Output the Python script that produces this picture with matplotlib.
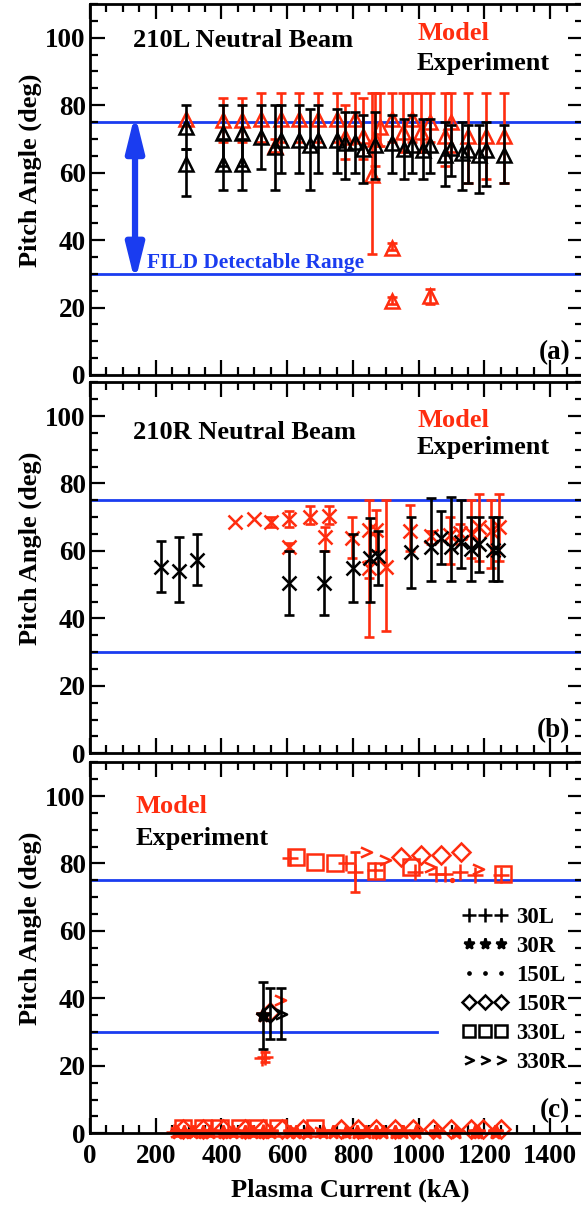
import numpy as np
import matplotlib
matplotlib.use('Agg')
import matplotlib.pyplot as plt
from matplotlib.path import Path
from matplotlib.lines import Line2D
from matplotlib.ticker import MultipleLocator

plt.rcParams['font.family'] = ['Liberation Serif', 'DejaVu Serif']
plt.rcParams['font.weight'] = 'bold'

RED = '#ff2d0f'
BLUE = '#1a3cf0'

# ---- panel (a): 210L neutral beam ----
a_exp_x = [291, 291, 405, 405, 461, 461, 519, 562, 580, 636, 669, 694, 750, 775, 807,
           831, 866, 920, 954, 980, 1013, 1035, 1079, 1099, 1133, 1150, 1185, 1206, 1261]
a_exp_y = [73.5, 62.6, 71.7, 62.6, 71.7, 62.6, 70.7, 67.7, 69.7, 69.7, 68.2, 69.7, 69.7, 68.7, 69.2,
           67.0, 68.2, 68.7, 67.0, 68.2, 66.8, 68.2, 65.3, 67.2, 65.8, 66.8, 65.3, 66.8, 65.3]
a_exp_hi = [80, 67, 80, 70, 80, 70, 80, 80, 80, 80, 79, 80, 79, 78, 78,
            77, 78, 77, 76, 77, 76, 76, 75, 74, 75, 74, 74, 75, 74]
a_exp_lo = [67, 53, 62, 55, 62, 55, 61, 55, 60, 60, 55, 60, 60, 58, 60,
            57, 58, 60, 58, 60, 58, 60, 56, 59, 55, 57, 54, 56, 57]

a_mod_x = [291, 405, 461, 519, 562, 580, 636, 694, 750, 775, 807, 831, 866, 859, 881,
           920, 920, 920, 952, 980, 1008, 1035, 1035, 1079, 1099, 1150, 1206, 1261]
a_mod_y = [76, 75.5, 75.5, 76, 68, 76, 76, 76, 76, 70.7, 76, 71, 70, 59.4, 73.5,
           76, 37.7, 21.8, 72, 76, 72, 75, 23.3, 71, 75, 71, 71, 71]
a_mod_hi = [76, 82, 82, 83.5, 70, 83.5, 83.5, 83.5, 83.5, 80, 83.5, 82, 83.5, 83.5, 83.5,
            83.5, 39, 23, 83.5, 83.5, 83.5, 83.5, 25.5, 83.5, 83.5, 83.5, 83.5, 83.5]
a_mod_lo = [76, 69, 69, 69, 66, 69, 69, 69, 69, 64, 69, 64, 62, 36, 68,
            69, 37, 21, 66, 69, 66, 69, 21, 62, 66, 57, 58, 57]

# ---- panel (b): 210R neutral beam ----
b_exp_x = [215, 272, 326, 605, 712, 800, 851, 876, 978, 1038, 1069, 1099, 1130, 1160, 1185, 1226, 1241]
b_exp_y = [55.3, 54.1, 57.3, 50.4, 50.4, 54.8, 57.8, 58.4, 59.7, 61.2, 63.7, 61.2, 62.7, 60.7, 62.2, 60.2, 60.2]
b_exp_hi = [63, 64, 65, 60, 60, 65, 69.9, 66, 70, 75.8, 71.8, 76, 75, 70, 70, 70, 70]
b_exp_lo = [47.7, 45, 49.9, 41, 41, 45, 45, 50, 49, 51, 56, 51, 54.8, 51, 53.8, 51, 51]

b_mod_x = [441, 498, 552, 605, 605, 669, 727, 714, 798, 849, 849, 869, 900, 975,
           1038, 1094, 1125, 1160, 1185, 1221, 1244]
b_mod_y = [68.6, 69.4, 68.6, 69.4, 61.2, 70.2, 70.4, 64, 63.8, 66.3, 54.8, 66.3, 55.3, 65.8,
           64.3, 64.7, 65.2, 65.2, 67.2, 65.8, 67.2]
b_mod_hi = [68.6, 69.4, 70, 71.8, 62.5, 73.3, 73.3, 67, 70, 75, 57, 72, 75, 73.5,
            66, 70, 68, 75, 77, 75, 77]
b_mod_lo = [68.6, 69.4, 67, 67, 60, 68, 68, 60, 58, 34.6, 52, 60, 36.3, 60,
            62, 56, 62, 58, 57, 55, 57]

# ---- panel (c): other beams (model in red, experiment in black) ----
c_30L_x = [608, 780, 805, 866, 988, 1054, 1079, 1125, 1170, 1251, 522, 532, 255, 525]
c_30L_y = [81.7, 80, 77.5, 78, 77.5, 77, 77, 77.5, 76.5, 76.7, 22.2, 22.5, 0.3, 0.3]
c_30L_hi = [81.7, 80, 83.4, 78, 77.5, 77, 77, 77.5, 76.5, 76.7, 22.2, 24.0, 0.3, 0.3]
c_30L_lo = [81.7, 80, 71.6, 78, 77.5, 77, 77, 77.5, 76.5, 76.7, 22.2, 21.0, 0.3, 0.3]

c_30R_x = [265, 287, 314, 345, 365, 405, 436, 471, 497, 527, 552, 608, 628, 659, 709,
           740, 780, 811, 841, 871, 892, 927, 952, 993, 1054, 1115, 1170, 1180, 1231, 1236, 527]
c_30R_y = [0.3] * 30 + [35]

c_150L_x = [1100, 300, 640, 960]
c_150L_y = [75, 0.3, 0.3, 0.3]

c_150R_x = [947, 1008, 1069, 1130, 547, 284, 344, 405, 471, 527, 583, 648, 765, 816,
            871, 927, 983, 1044, 1099, 1160, 1196, 1251]
c_150R_y = [82, 82.4, 82.6, 83.5, 35.9] + [1.3] * 17

c_330L_x = [628, 684, 745, 870, 978, 1256, 284, 344, 395, 456, 512, 572, 684]
c_330L_y = [81.9, 80.5, 80.2, 77.7, 79, 77, 1.7, 1.7, 1.7, 1.7, 1.7, 1.7, 1.7]

c_330R_x = [841, 897, 1033, 1180, 577, 263, 628, 700, 790, 850]
c_330R_y = [83.5, 81, 79, 78.5, 39.5, 0.3, 0.3, 0.3, 0.3, 0.3]

c_exp_x = [525, 547, 582]
c_exp_y = [35, 35.8, 35.5]
c_exp_hi = [45, 43, 43]
c_exp_lo = [25, 28, 28]
c_exp_beam = ['30R', '150R', '330R']

legend_labels = ['30L', '30R', '150L', '150R', '330L', '330R']

# chevron marker used for 330R
chev = Path([(-0.5, 0.45), (0.5, 0.0), (-0.5, -0.45)], [Path.MOVETO, Path.LINETO, Path.LINETO])
mk = {'30L': ('+', 12), '30R': ('*', 10), '150L': ('.', 4), '150R': ('D', 9),
      '330L': ('s', 11), '330R': (chev, 8)}

W, H = 581, 1206
fig = plt.figure(figsize=(W / 100, H / 100), dpi=100)

def make_ax(bottom_px):
    ax = fig.add_axes([90 / W, (H - bottom_px) / H, 493 / W, 371 / H])
    ax.set_xlim(0, 1500)
    ax.set_ylim(0, 110)
    ax.xaxis.set_major_locator(MultipleLocator(200))
    ax.xaxis.set_minor_locator(MultipleLocator(50))
    ax.yaxis.set_minor_locator(MultipleLocator(5))
    ax.set_yticks([0, 20, 40, 60, 80, 100])
    ax.set_xticks([0, 200, 400, 600, 800, 1000, 1200, 1400])
    ax.tick_params(which='both', direction='in', top=True, right=True, width=1.6, labelsize=19.5)
    ax.tick_params(which='major', length=11)
    ax.tick_params(which='minor', length=6)
    ax.tick_params(axis='y', pad=3)
    ax.tick_params(axis='x', pad=8)
    for s in ax.spines.values():
        s.set_linewidth(2)
    ax.set_ylabel('Pitch Angle (deg)', fontsize=19, fontweight='bold')
    ax.yaxis.set_label_coords(-0.097, 0.553)
    return ax

def errpts(ax, x, y, lo, hi, color, marker, ms, z):
    x = np.array(x, float); y = np.array(y, float)
    lo = np.array(lo, float); hi = np.array(hi, float)
    m = hi > lo
    ax.errorbar(x[m], y[m], yerr=[y[m] - lo[m], hi[m] - y[m]], fmt='none', ecolor=color,
                elinewidth=1.9, capsize=3.5, capthick=1.9, zorder=z)
    ax.plot(x, y, ls='none', marker=marker, ms=ms, mfc='none', mec=color, mew=1.8, zorder=z + 0.1)

# (a)
ax1 = make_ax(375)
ax1.axhline(75, color=BLUE, lw=2, zorder=1)
ax1.axhline(30, color=BLUE, lw=2, zorder=1)
errpts(ax1, a_mod_x, a_mod_y, a_mod_lo, a_mod_hi, RED, '^', 10, 2)
errpts(ax1, a_exp_x, a_exp_y, a_exp_lo, a_exp_hi, 'black', '^', 9.5, 3)
ax1.annotate('', xy=(137, 27.6), xytext=(137, 77.4),
             arrowprops=dict(arrowstyle='<|-|>,head_width=0.26,head_length=1.05', lw=4.5,
                             color=BLUE, mutation_scale=20, shrinkA=0, shrinkB=0))
ax1.text(172, 33.2, 'FILD Detectable Range', color=BLUE, fontsize=15.5, fontweight='bold', va='center')
ax1.text(131, 99.2, '210L Neutral Beam', fontsize=19, fontweight='bold', va='center')
ax1.text(995, 101.3, 'Model', color=RED, fontsize=19, fontweight='bold', va='center')
ax1.text(995, 92.3, 'Experiment', fontsize=19, fontweight='bold', va='center')
ax1.text(0.974, 0.06, '(a)', transform=ax1.transAxes, ha='right', va='center', fontsize=19.5)
ax1.tick_params(labelbottom=False)

# (b)
ax2 = make_ax(753.3)
ax2.axhline(75, color=BLUE, lw=2, zorder=1)
ax2.axhline(30, color=BLUE, lw=2, zorder=1)
errpts(ax2, b_mod_x, b_mod_y, b_mod_lo, b_mod_hi, RED, 'x', 10, 2)
errpts(ax2, b_exp_x, b_exp_y, b_exp_lo, b_exp_hi, 'black', 'x', 10, 3)
ax2.text(131, 95.2, '210R Neutral Beam', fontsize=19, fontweight='bold', va='center')
ax2.text(995, 98.7, 'Model', color=RED, fontsize=19, fontweight='bold', va='center')
ax2.text(995, 90.7, 'Experiment', fontsize=19, fontweight='bold', va='center')
ax2.text(0.974, 0.06, '(b)', transform=ax2.transAxes, ha='right', va='center', fontsize=19.5)
ax2.tick_params(labelbottom=False)

# (c)
ax3 = make_ax(1133.3)
ax3.axhline(75, color=BLUE, lw=2, zorder=1)
ax3.plot([0, 1057], [30, 30], color=BLUE, lw=2, zorder=1)
errpts(ax3, c_30L_x, c_30L_y, c_30L_lo, c_30L_hi, RED, mk['30L'][0], mk['30L'][1], 2)
for xs, ys, key in [(c_30R_x, c_30R_y, '30R'), (c_150L_x, c_150L_y, '150L'),
                    (c_150R_x, c_150R_y, '150R'), (c_330L_x, c_330L_y, '330L'),
                    (c_330R_x, c_330R_y, '330R')]:
    m, s = mk[key]
    fill = RED if key in ('30R', '150L') else 'none'
    ax3.plot(xs, ys, ls='none', marker=m, ms=s, mfc=fill, mec=RED, mew=1.8, zorder=2, clip_on=False)
ax3.errorbar(c_exp_x, c_exp_y,
             yerr=[np.array(c_exp_y) - np.array(c_exp_lo), np.array(c_exp_hi) - np.array(c_exp_y)],
             fmt='none', ecolor='black', elinewidth=1.9, capsize=3.5, capthick=1.9, zorder=3)
for xx, yy, key in zip(c_exp_x, c_exp_y, c_exp_beam):
    m, s = mk[key]
    ax3.plot([xx], [yy], ls='none', marker=m, ms=s, mfc='black' if key == '30R' else 'none',
             mec='black', mew=1.8, zorder=3.1)
ax3.text(139, 96.8, 'Model', color=RED, fontsize=19, fontweight='bold', va='center')
ax3.text(139, 87.3, 'Experiment', fontsize=19, fontweight='bold', va='center')
ax3.text(0.974, 0.06, '(c)', transform=ax3.transAxes, ha='right', va='center', fontsize=19.5)

# legend: three small black symbols per beam
handles = []
for key in legend_labels:
    m, s = mk[key]
    handles.append(Line2D([], [], ls='none', marker=m, ms=s * 0.8, color='black',
                          mfc='black' if key in ('30R', '150L') else 'none', mew=1.8))
ax3.legend(handles, legend_labels, numpoints=3, loc='upper left', bbox_to_anchor=(0.755, 0.61),
           frameon=False, fontsize=16.5, handlelength=2.0, handletextpad=0.35, labelspacing=0.35,
           borderpad=0, borderaxespad=0)

ax3.set_xlabel('Plasma Current (kA)', fontsize=19, fontweight='bold')
ax3.xaxis.set_label_coords(0.527, -0.122)

fig.savefig('out.png', dpi=100)
